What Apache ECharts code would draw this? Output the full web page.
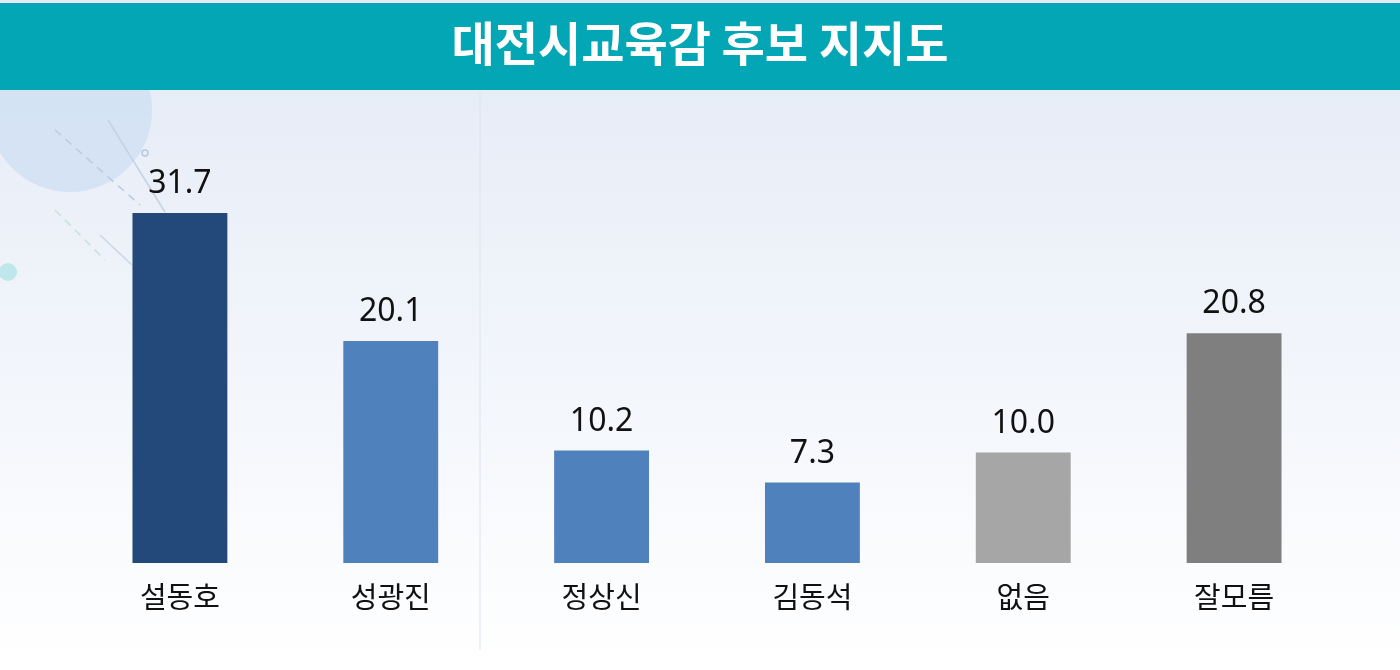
<!DOCTYPE html>
<html>
<head>
<meta charset="utf-8">
<script src="https://cdn.jsdelivr.net/npm/echarts@6/dist/echarts.min.js"></script>
<style>
  html, body { margin: 0; padding: 0; }
  #chart { width: 1400px; height: 670px; }
</style>
</head>
<body>
<div id="chart"></div>
<script>
/* 데이터 */
let categories = ['설동호', '성광진', '정상신', '김동석', '없음', '잘모름'];
let values = [31.7, 20.1, 10.2, 7.3, 10.0, 20.8];
let barColors = ['#22497A', '#4F81BD', '#4F81BD', '#4F81BD', '#A6A6A6', '#7F7F7F'];

var chart = echarts.init(document.getElementById('chart'));
option = {
    backgroundColor: new echarts.graphic.LinearGradient(0, 0, 0, 1, [
        { offset: 0, color: '#E3EAF6' },
        { offset: 1, color: '#FFFFFF' }
    ]),
    title: {
        text: '대전시교육감 후보 지지도',
        left: 'center',
        top: 15,
        textStyle: {
            color: '#FFFFFF',
            fontSize: 47,
            fontWeight: 'bold',
            fontFamily: 'Noto Sans CJK KR'
        }
    },
    graphic: [
        // 상단 띠
        { type: 'rect', z: -1, shape: { x: 0, y: 3, width: 1400, height: 87 }, style: { fill: '#02A6B5' } },
        // 왼쪽 위 장식
        { type: 'circle', z: -2, shape: { cx: 70, cy: 110, r: 82 }, style: { fill: '#CFE0F3', opacity: 0.8 } },
        { type: 'circle', z: -2, shape: { cx: 8, cy: 272, r: 9 }, style: { fill: '#BFE6EA' } },
        { type: 'circle', z: -2, shape: { cx: 145, cy: 153, r: 3 }, style: { fill: 'none', stroke: '#B8C8DC', lineWidth: 1.5 } },
        { type: 'line', z: -2, shape: { x1: 55, y1: 130, x2: 140, y2: 205 }, style: { stroke: '#BCCCE0', lineWidth: 1.5, lineDash: [8, 6] } },
        { type: 'line', z: -2, shape: { x1: 108, y1: 120, x2: 165, y2: 212 }, style: { stroke: '#C4D2E4', lineWidth: 1.5 } },
        { type: 'line', z: -2, shape: { x1: 55, y1: 210, x2: 105, y2: 260 }, style: { stroke: '#C8E2D8', lineWidth: 1.5, lineDash: [8, 6] } },
        { type: 'line', z: -2, shape: { x1: 100, y1: 235, x2: 132, y2: 265 }, style: { stroke: '#C8D8E6', lineWidth: 1.5 } },
        // 세로 구분선
        { type: 'line', z: -2, shape: { x1: 480, y1: 92, x2: 480, y2: 650 }, style: { stroke: '#DCE4EF', lineWidth: 1 } }
    ],
    grid: {
        left: 74.5,
        right: 60.5,
        top: 121.4,
        bottom: 107
    },
    xAxis: {
        type: 'category',
        data: categories,
        axisLine: { show: false },
        axisTick: { show: false },
        axisLabel: {
            color: '#111111',
            fontSize: 29,
            margin: 19,
            fontFamily: 'Noto Sans CJK KR'
        }
    },
    yAxis: {
        type: 'value',
        min: 0,
        max: 40,
        show: false,
        splitLine: { show: false }
    },
    series: [
        {
            type: 'bar',
            barWidth: '45%',
            data: values.map((v, i) => ({ value: v, itemStyle: { color: barColors[i] } })),
            label: {
                show: true,
                position: 'top',
                distance: 13,
                color: '#111111',
                fontSize: 32,
                fontFamily: 'Noto Sans',
                formatter: (p) => p.value.toFixed(1)
            }
        }
    ]
};
chart.setOption(option);
</script>
</body>
</html>
